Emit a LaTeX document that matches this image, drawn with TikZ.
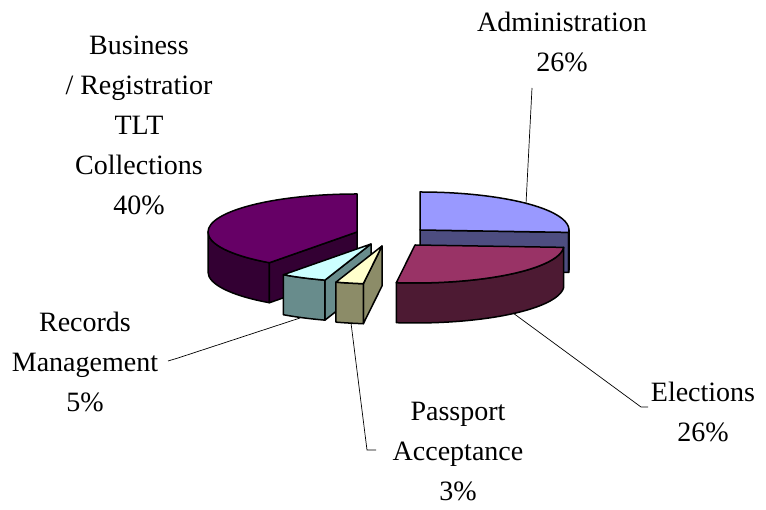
\documentclass[tikz,border=0pt]{standalone}
\usepackage{fontspec}
\usepackage{tikz}
\setmainfont{Liberation Serif}
\definecolor{adminTop}{HTML}{9999FF}
\definecolor{adminSide}{HTML}{4D4D80}
\definecolor{elecTop}{HTML}{993366}
\definecolor{elecSide}{HTML}{4D1A33}
\definecolor{busTop}{HTML}{660066}
\definecolor{busSide}{HTML}{330033}
\definecolor{recTop}{HTML}{CCFFFF}
\definecolor{recSide}{HTML}{688C8C}
\definecolor{passTop}{HTML}{FFFFCC}
\definecolor{passSide}{HTML}{8C8C68}

\begin{document}
\begin{tikzpicture}[x=1pt,y=1pt,
		slice/.style={draw=black,line width=1.5pt,line join=round},
		leader/.style={draw=black,line width=0.7pt},
		lbl/.style={align=center,inner sep=0pt,font=\fontsize{28}{40}\selectfont},
		rim/.style={x radius=149pt,y radius=38pt}]
				\useasboundingbox (0,0) rectangle (766,510);
				
				% centres of the slices
				\foreach \x/\y/\z in
				{B/357/278, A/420/280, E/415/265, R/371/266, P/382/264}{
					\coordinate(\x) at (\y,\z);
				}
				
				% business (back left)
				\filldraw[slice,fill=busSide] (B) ++(180:149pt and 38pt) arc[rim,start angle=180,end angle=234] -- ++(0,-40) arc[rim,start angle=234,end angle=180] -- cycle;
				\filldraw[slice,fill=busSide] (B) -- ++(234:149pt and 38pt) -- ++(0,-40) -- ([yshift=-40pt]B) -- cycle;
				\filldraw[slice,fill=busTop] (B) -- ++(90:149pt and 38pt) arc[rim,start angle=90,end angle=234] -- cycle;
				
				% administration (back right)
				\filldraw[slice,fill=adminSide] (A) -- ++(-3.6:149pt and 38pt) -- ++(0,-40) -- ([yshift=-40pt]A) -- cycle;
				\filldraw[slice,fill=adminSide] (A) ++(0:149pt and 38pt) arc[rim,start angle=0,end angle=-3.6] -- ++(0,-40) arc[rim,start angle=-3.6,end angle=0] -- cycle;
				\filldraw[slice,fill=adminTop] (A) -- ++(90:149pt and 38pt) arc[rim,start angle=90,end angle=-3.6] -- cycle;
				
				% records management
				\filldraw[slice,fill=recSide] (R) -- ++(252:149pt and 38pt) -- ++(0,-40) -- ([yshift=-40pt]R) -- cycle;
				\filldraw[slice,fill=recSide] (R) ++(234:149pt and 38pt) arc[rim,start angle=234,end angle=252] -- ++(0,-40) arc[rim,start angle=252,end angle=234] -- cycle;
				\filldraw[slice,fill=recTop] (R) -- ++(234:149pt and 38pt) arc[rim,start angle=234,end angle=252] -- cycle;
				
				% passport acceptance
				\filldraw[slice,fill=passSide] (P) -- ++(262.8:149pt and 38pt) -- ++(0,-40) -- ([yshift=-40pt]P) -- cycle;
				\filldraw[slice,fill=passSide] (P) ++(252:149pt and 38pt) arc[rim,start angle=252,end angle=262.8] -- ++(0,-40) arc[rim,start angle=262.8,end angle=252] -- cycle;
				\filldraw[slice,fill=passTop] (P) -- ++(252:149pt and 38pt) arc[rim,start angle=252,end angle=262.8] -- cycle;
				
				% elections (front right)
				\filldraw[slice,fill=elecSide] (E) ++(-3.6:149pt and 38pt) arc[rim,start angle=-3.6,end angle=-97.2] -- ++(0,-40) arc[rim,start angle=-97.2,end angle=-3.6] -- cycle;
				\filldraw[slice,fill=elecTop] (E) -- ++(-3.6:149pt and 38pt) arc[rim,start angle=-3.6,end angle=-97.2] -- cycle;
				
				% labels
				\node[lbl] (admin) at (562,468) {Administration\\26\%};
				\node[lbl] (business) at (139,385) {Business\\/ Registratior\\TLT\\Collections\\40\%};
				\node[lbl] (records) at (85,148) {Records\\Management\\5\%};
				\node[lbl] (passport) at (458,58) {Passport\\Acceptance\\3\%};
				\node[lbl] (elections) at (703,98) {Elections\\26\%};
				
				% leader lines
				\coordinate (adminTip) at (526,306);
				\coordinate (adminEnd) at (532,422);
				\coordinate (elecTip) at (513,197);
				\coordinate (elecBend) at (641,103);
				\coordinate (elecEnd) at (648,103);
				\coordinate (recTip) at (300,192);
				\coordinate (recBend) at (178,152);
				\coordinate (recEnd) at (168,149);
				\coordinate (passTip) at (351,187);
				\coordinate (passBend) at (367,60);
				\coordinate (passEnd) at (376,60);
				\draw[leader] (adminEnd) -- (adminTip);
				\draw[leader] (elecTip) -- (elecBend) -- (elecEnd);
				\draw[leader] (recTip) -- (recBend) -- (recEnd);
				\draw[leader] (passTip) -- (passBend) -- (passEnd);
			\end{tikzpicture}
\end{document}
